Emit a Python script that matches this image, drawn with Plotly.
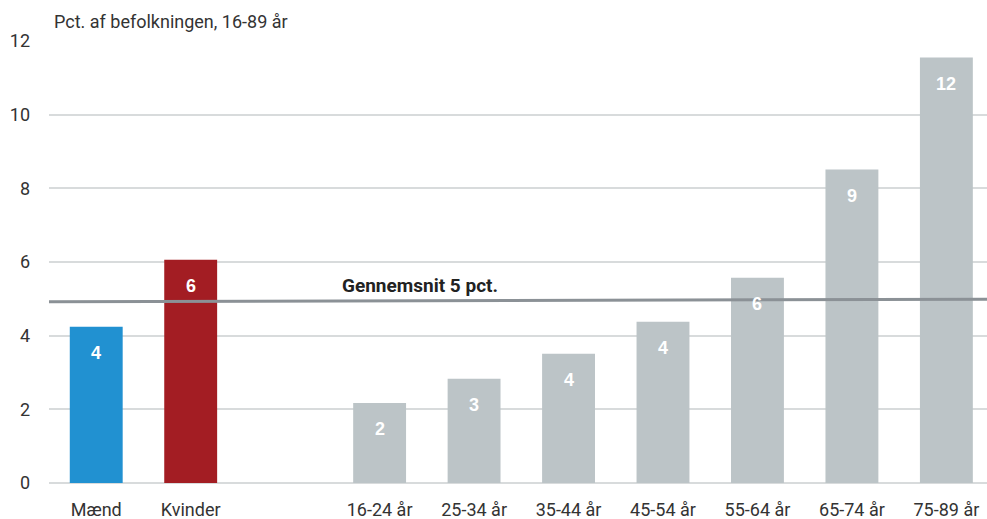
import plotly.graph_objects as go

categories = ["Mænd", "Kvinder", " ", "16-24 år", "25-34 år", "35-44 år",
              "45-54 år", "55-64 år", "65-74 år", "75-89 år"]
values = [4.24, 6.06, None, 2.17, 2.83, 3.51, 4.38, 5.57, 8.51, 11.55]
labels = ["4", "6", "", "2", "3", "4", "4", "6", "9", "12"]
colors = ["#2191d1", "#a31d23", "#bcc4c7", "#bcc4c7", "#bcc4c7", "#bcc4c7",
          "#bcc4c7", "#bcc4c7", "#bcc4c7", "#bcc4c7"]
avg_line = [4.92, 4.99]  # start/end of the average line
avg_label = "Gennemsnit 5 pct."
y_ticks = [0, 2, 4, 6, 8, 10, 12]
y_title = "Pct. af befolkningen, 16-89 år"

FONT = "Roboto, Arial, sans-serif"

fig = go.Figure()
fig.add_trace(go.Bar(
    x=categories, y=values, marker=dict(color=colors, line=dict(width=0)),
    hoverinfo="x+y", showlegend=False,
))

for c, v, t in zip(categories, values, labels):
    if v is None:
        continue
    fig.add_annotation(x=c, y=v, text="<b>" + t + "</b>", showarrow=False,
                       yshift=-26, font=dict(family="Arial, sans-serif", size=18, color="white"))

fig.add_shape(type="line", xref="paper", yref="y", x0=0, x1=1,
              y0=avg_line[0], y1=avg_line[1],
              line=dict(color="#8b9196", width=3), layer="above")

fig.add_annotation(x=2.58, y=avg_line[0], text="<b>" + avg_label + "</b>",
                   showarrow=False, xanchor="left", yanchor="bottom", yshift=3,
                   font=dict(family=FONT, size=19, color="#222222"))

fig.add_annotation(xref="paper", yref="paper", x=0.003, y=1.0, yshift=20,
                   xanchor="left", yanchor="middle", text=y_title, showarrow=False,
                   font=dict(family=FONT, size=18, color="#333333"))

fig.update_layout(
    width=987, height=519,
    margin=dict(l=49, r=0, t=41, b=36),
    paper_bgcolor="white", plot_bgcolor="white",
    bargap=0.44,
    font=dict(family=FONT, size=18, color="#333333"),
    xaxis=dict(type="category", range=[-0.5, 9.43], showgrid=False,
               showline=False, ticks="", tickfont=dict(size=18, color="#333333"),
               ticklabelstandoff=14),
    yaxis=dict(range=[0, 12], tickvals=y_ticks, showgrid=True, gridcolor="#d8dbdc",
               gridwidth=1.5, zeroline=True, zerolinecolor="#d8dbdc", zerolinewidth=1.5,
               showline=False, ticks="", tickfont=dict(size=18, color="#333333"),
               ticklabelstandoff=18),
)

fig.write_html("out.html", config={"displayModeBar": False},
               post_script="document.body.style.margin='0';document.body.style.overflow='hidden';")
